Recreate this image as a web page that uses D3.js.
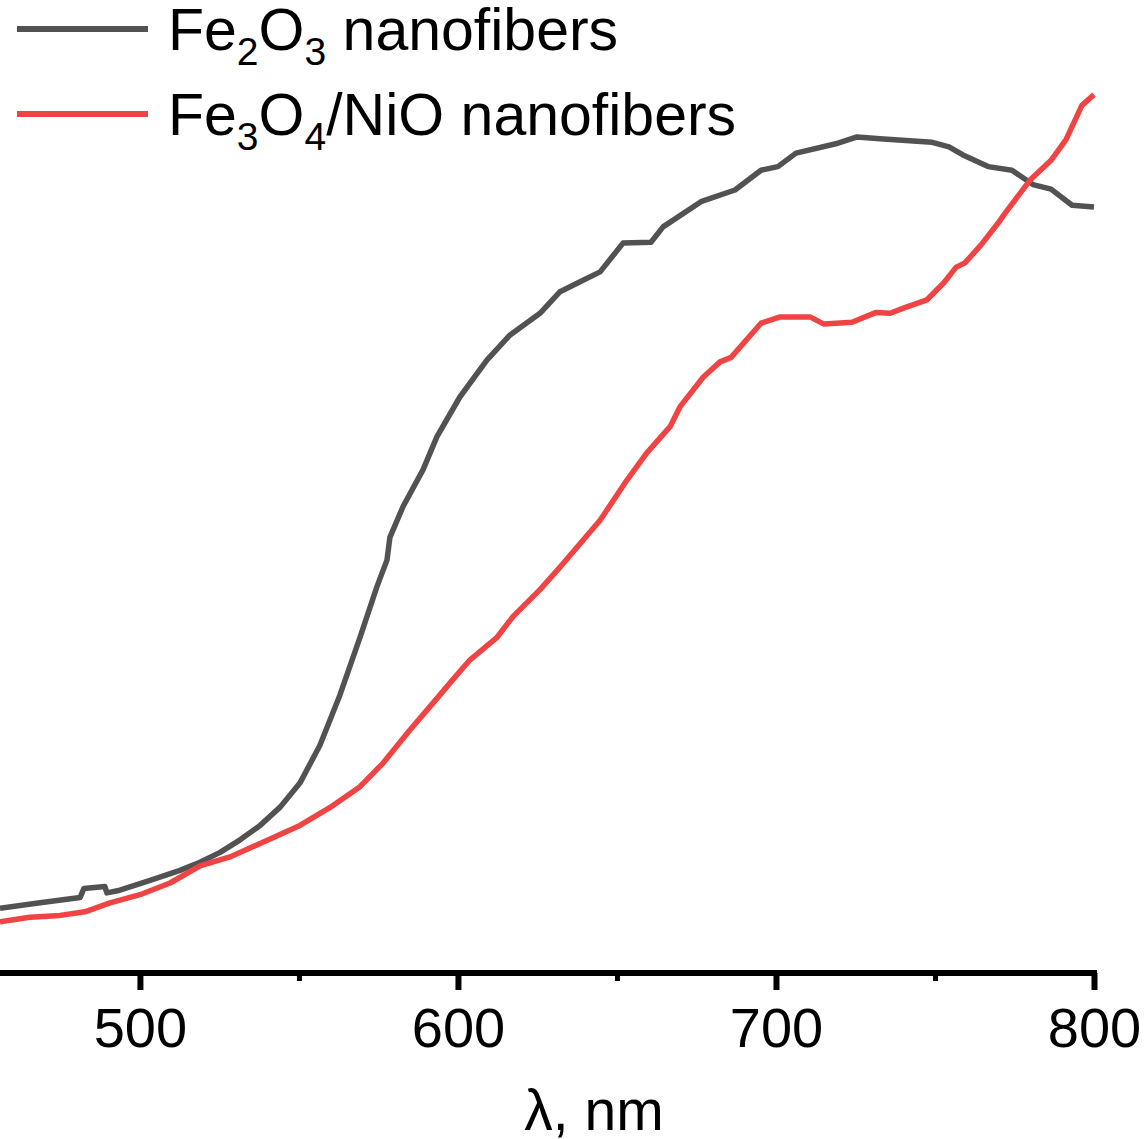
<!DOCTYPE html>
<html lang="en">

<head>
    <meta charset="UTF-8">
    <title>UV-Vis spectra</title>
    <script src="https://d3js.org/d3.v7.min.js"></script>
    <style>
        body { margin: 0; background: #fff; }
        text { font-family: "Liberation Sans", Arial, sans-serif; fill: #000; }
    </style>
</head>

<body>
    <script>
        // wavelength (nm) and absorbance (a.u.)
        const fe2o3Wl = [456, 468.6, 481.2, 482.4, 489.0, 489.6, 493.7, 503.2, 512.6, 518.9, 525.2, 531.5, 537.8, 544.0,
            550.3, 556.6, 562.9, 569.2, 574.5, 577.7, 578.6, 582.7, 589.0, 593.4, 600.6, 609.1, 616.4, 625.8, 632.1,
            638.4, 644.7, 651.9, 660.7, 664.5, 676.4, 687.1, 695.3, 700.6, 706.3, 719.5, 725.5, 732.7, 749.1, 754.4,
            758.8, 766.7, 774.2, 780.8, 786.5, 793.1, 800];
        const fe2o3Abs = [0.072, 0.078, 0.084, 0.094, 0.096, 0.089, 0.092, 0.103, 0.114, 0.123, 0.134, 0.148, 0.164, 0.184,
            0.211, 0.253, 0.309, 0.373, 0.429, 0.459, 0.484, 0.518, 0.559, 0.596, 0.640, 0.681, 0.709, 0.733, 0.757,
            0.768, 0.779, 0.811, 0.812, 0.829, 0.857, 0.870, 0.892, 0.896, 0.911, 0.922, 0.929, 0.927, 0.923, 0.918,
            0.909, 0.896, 0.892, 0.876, 0.871, 0.853, 0.851];

        const fe3o4Wl = [456, 465.4, 474.9, 482.7, 490.6, 500.0, 509.5, 518.9, 528.3, 537.8, 550.3, 559.8, 569.2, 576.4,
            584.9, 591.2, 598.4, 603.8, 612.3, 617.3, 625.8, 632.1, 644.7, 653.2, 659.4, 666.7, 669.8, 677.1, 682.4,
            685.9, 695.3, 701.3, 710.7, 715.1, 723.9, 731.5, 735.9, 740.3, 747.5, 752.8, 756.6, 759.4, 764.5, 769.8,
            772.0, 779.9, 786.5, 791.2, 796.2, 800];
        const fe3o4Abs = [0.057, 0.062, 0.064, 0.068, 0.078, 0.087, 0.100, 0.119, 0.129, 0.144, 0.164, 0.184, 0.207, 0.233,
            0.270, 0.296, 0.326, 0.348, 0.373, 0.396, 0.426, 0.451, 0.503, 0.548, 0.578, 0.607, 0.629, 0.662, 0.679,
            0.684, 0.722, 0.729, 0.729, 0.721, 0.723, 0.734, 0.733, 0.739, 0.748, 0.767, 0.784, 0.789, 0.809, 0.833,
            0.844, 0.881, 0.903, 0.926, 0.964, 0.976];

        const majorTicks = [500, 600, 700, 800];
        const minorTicks = [550, 650, 750];

        const w = 1145, h = 1139;

        const svg = d3.select("body")
            .append("svg")
            .attr("width", w)
            .attr("height", h);

        // scales
        const xScale = d3.scaleLinear().domain([456, 800]).range([0, 1094]);
        const yScale = d3.scaleLinear().domain([0, 1]).range([973, 73]);

        const line = d3.line()
            .x(d => xScale(d[0]))
            .y(d => yScale(d[1]));

        const series = [
            { name: "fe2o3", wl: fe2o3Wl, abs: fe2o3Abs, color: "#525252" },
            { name: "fe3o4", wl: fe3o4Wl, abs: fe3o4Abs, color: "#f04343" }
        ];

        series.forEach(s => {
            svg.append("path")
                .datum(d3.zip(s.wl, s.abs))
                .attr("fill", "none")
                .attr("stroke", s.color)
                .attr("stroke-width", 5.5)
                .attr("stroke-linejoin", "round")
                .attr("d", line);
        });

        // x axis, minor ticks first
        svg.append("g")
            .attr("transform", "translate(0,973)")
            .call(d3.axisBottom(xScale).tickValues(minorTicks).tickSize(8).tickSizeOuter(0).tickFormat(""))
            .call(g => g.select(".domain").remove())
            .call(g => g.selectAll(".tick line").attr("stroke", "#000").attr("stroke-width", 5));

        const xAxis = svg.append("g")
            .attr("transform", "translate(0,973)")
            .call(d3.axisBottom(xScale).tickValues(majorTicks).tickSize(17).tickSizeOuter(0).tickFormat(d3.format("d")));

        xAxis.select(".domain")
            .attr("stroke", "#000")
            .attr("stroke-width", 6)
            .attr("d", "M-5,0H" + (xScale(800) + 3));
        xAxis.selectAll(".tick line").attr("stroke", "#000").attr("stroke-width", 6);
        xAxis.selectAll(".tick text")
            .attr("y", 74)
            .attr("dy", null)
            .attr("font-size", 56)
            .attr("font-family", "Liberation Sans, Arial, sans-serif");

        // axis title
        svg.append("text")
            .attr("x", 594)
            .attr("y", 1130)
            .attr("text-anchor", "middle")
            .attr("font-size", 57)
            .text("λ, nm");

        // legend
        const legend = svg.append("g");
        const legendItems = [
            { color: "#525252", parts: [["Fe", 0], ["2", 1], ["O", 0], ["3", 1], [" nanofibers", 0]] },
            { color: "#f04343", parts: [["Fe", 0], ["3", 1], ["O", 0], ["4", 1], ["/NiO nanofibers", 0]] }
        ];
        legendItems.forEach((item, i) => {
            const y0 = 29 + i * 85;
            legend.append("line")
                .attr("x1", 17).attr("x2", 148)
                .attr("y1", y0).attr("y2", y0)
                .attr("stroke", item.color)
                .attr("stroke-width", 6);
            const t = legend.append("text")
                .attr("x", 168)
                .attr("y", y0 + 21)
                .attr("font-size", 59);
            let sub = false;
            item.parts.forEach(p => {
                const span = t.append("tspan").text(p[0]);
                if (p[1] && !sub) { span.attr("dy", 15).attr("font-size", 39); sub = true; }
                else if (p[1]) { span.attr("font-size", 39); }
                else if (sub) { span.attr("dy", -15); sub = false; }
            });
        });
    </script>
</body>

</html>
